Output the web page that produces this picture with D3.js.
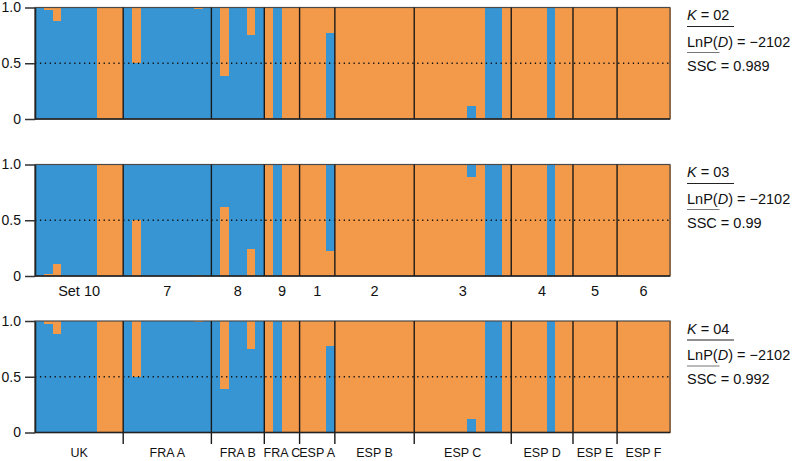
<!DOCTYPE html>
<html>
<head>
<meta charset="utf-8">
<script src="https://cdn.jsdelivr.net/npm/d3@7"></script>
<style>
  html, body { margin: 0; padding: 0; background: #fff; }
  svg { display: block; font-family: "Liberation Sans", Arial, Helvetica, sans-serif; }
</style>
</head>
<body>
<svg id="chart" width="792" height="461"></svg>
<script>
// ---------------- DATA ----------------
const groupNames = ["UK", "FRA A", "FRA B", "FRA C", "ESP A", "ESP B", "ESP C", "ESP D", "ESP E", "ESP F"];
const setLabels = ["Set 10", "7", "8", "9", "1", "2", "3", "4", "5", "6"];
const groupSizes = [10, 10, 6, 4, 4, 9, 11, 7, 5, 6];

// proportion of blue cluster per individual (72 individuals)
const blueK2 = [
  1, 0.976, 0.88, 1, 1, 1, 1, 0, 0, 0,          // UK
  1, 0.5, 1, 1, 1, 1, 1, 1, 0.99, 1,            // FRA A
  1, 0.39, 1, 1, 0.75, 1,                       // FRA B
  0, 1, 0, 0,                                   // FRA C
  0, 0, 0, 0.773,                               // ESP A
  0, 0, 0, 0, 0, 0, 0, 0, 0,                    // ESP B
  0, 0, 0, 0, 0, 0, 0.116, 0, 1, 1, 0,          // ESP C
  0, 0, 0, 0, 1, 0, 0,                          // ESP D
  0, 0, 0, 0, 0,                                // ESP E
  0, 0, 0, 0, 0, 0                              // ESP F
];
const blueK3 = [
  1, 0.982, 0.89, 1, 1, 1, 1, 0, 0, 0,
  1, 0.5, 1, 1, 1, 1, 1, 1, 0.99, 1,
  1, 0.384, 1, 1, 0.757, 1,
  0, 1, 0, 0,
  0, 0, 0, 0.775,
  0, 0, 0, 0, 0, 0, 0, 0, 0,
  0, 0, 0, 0, 0, 0, 0.108, 0, 1, 1, 0,
  0, 0, 0, 0, 1, 0, 0,
  0, 0, 0, 0, 0,
  0, 0, 0, 0, 0, 0
];
const blueK4 = [
  1, 0.976, 0.883, 1, 1, 1, 1, 0, 0, 0,
  1, 0.5, 1, 1, 1, 1, 1, 1, 0.99, 1,
  1, 0.39, 1, 1, 0.75, 1,
  0, 1, 0, 0,
  0, 0, 0, 0.778,
  0, 0, 0, 0, 0, 0, 0, 0, 0,
  0, 0, 0, 0, 0, 0, 0.117, 0, 1, 1, 0,
  0, 0, 0, 0, 1, 0, 0,
  0, 0, 0, 0, 0,
  0, 0, 0, 0, 0, 0
];
const kLabels = ["02", "03", "04"];
const lnpLabels = ["\u22122102", "\u22122102", "\u22122102"];
const sscLabels = ["0.989", "0.99", "0.992"];
const yTicks = [0, 0.5, 1];

// ---------------- LAYOUT ----------------
const BLUE = "#3795d3";
const ORANGE = "#f3994a";
const left = 35, right = 670;
const panels = [
  { data: blueK2, top: 7.5, bottom: 119, blueBottom: true, labels: null },
  { data: blueK3, top: 164.5, bottom: 276, blueBottom: false, labels: "sets" },
  { data: blueK4, top: 321, bottom: 432.5, blueBottom: true, labels: "groups" }
];

const svg = d3.select("#chart");
const n = blueK2.length;
const x = d3.scaleBand().domain(d3.range(n)).range([left, right]).paddingInner(0).paddingOuter(0);
const xLin = d3.scaleLinear().domain([0, n]).range([left, right]);
const cum = d3.cumsum(groupSizes);
const starts = [0, ...cum.slice(0, -1)];

panels.forEach((p, pi) => {
  const y = d3.scaleLinear().domain([0, 1]).range([p.bottom, p.top]);
  const g = svg.append("g");

  // bars
  const bars = g.append("g").attr("shape-rendering", "crispEdges");
  p.data.forEach((b, i) => {
    const o = 1 - b;
    const segs = p.blueBottom
      ? [{ v0: 0, v1: b, c: BLUE }, { v0: b, v1: 1, c: ORANGE }]
      : [{ v0: 0, v1: o, c: ORANGE }, { v0: o, v1: 1, c: BLUE }];
    segs.forEach(s => {
      if (s.v1 - s.v0 <= 0) return;
      bars.append("rect")
        .attr("x", x(i))
        .attr("width", x.bandwidth() + 0.6)
        .attr("y", y(s.v1))
        .attr("height", y(s.v0) - y(s.v1))
        .attr("fill", s.c);
    });
  });

  // dotted 0.5 line
  g.append("line")
    .attr("x1", left).attr("x2", right)
    .attr("y1", y(0.5)).attr("y2", y(0.5))
    .attr("stroke", "#111").attr("stroke-width", 1.3)
    .attr("stroke-dasharray", "1.3,3.6");

  // frame
  g.append("rect")
    .attr("x", left).attr("y", p.top)
    .attr("width", right - left).attr("height", p.bottom - p.top)
    .attr("fill", "none").attr("stroke", "#4a4a4a").attr("stroke-width", 1.2);

  // group separators
  cum.slice(0, -1).forEach(c => {
    g.append("line")
      .attr("x1", xLin(c)).attr("x2", xLin(c))
      .attr("y1", p.top).attr("y2", p.labels === "groups" ? p.bottom + 11.5 : p.bottom)
      .attr("stroke", "#1a1a1a").attr("stroke-width", 1.4);
  });

  // bottom line
  g.append("line")
    .attr("x1", left).attr("x2", right)
    .attr("y1", p.bottom).attr("y2", p.bottom)
    .attr("stroke", "#222").attr("stroke-width", 1.5);

  // y axis
  const ax = g.append("g")
    .attr("transform", `translate(${left},0)`)
    .call(d3.axisLeft(y).tickValues(yTicks).tickSize(10).tickSizeOuter(0).tickPadding(4)
      .tickFormat(d => d === 0 ? "0" : d3.format(".1f")(d)));
  ax.select(".domain").attr("stroke", "#222").attr("stroke-width", 1.6);
  ax.selectAll(".tick line").attr("stroke", "#333").attr("stroke-width", 1.5);
  ax.selectAll(".tick text").attr("font-size", 14).attr("fill", "#111")
    .attr("font-family", "'Liberation Sans', Arial, sans-serif");

  // category labels
  if (p.labels) {
    const labs = p.labels === "sets" ? setLabels : groupNames;
    labs.forEach((t, gi) => {
      g.append("text")
        .attr("x", (xLin(starts[gi]) + xLin(cum[gi])) / 2)
        .attr("y", p.labels === "sets" ? p.bottom + 19.5 : p.bottom + 24.5)
        .attr("text-anchor", "middle")
        .attr("font-size", p.labels === "sets" ? 14.5 : 12.5)
        .attr("fill", "#111")
        .text(t);
    });
  }

  // right-side annotation
  const tx = 687, T = p.top;
  const k = g.append("text").attr("x", tx).attr("y", T + 12.5).attr("font-size", 14.5).attr("fill", "#111");
  k.append("tspan").attr("font-style", "italic").text("K");
  k.append("tspan").text(" = " + kLabels[pi]);
  g.append("line").attr("x1", tx).attr("x2", 734).attr("y1", T + 19).attr("y2", T + 19)
    .attr("stroke", "#222").attr("stroke-width", 1.2);
  const l = g.append("text").attr("x", tx).attr("y", T + 39).attr("font-size", 14.5).attr("fill", "#111");
  l.append("tspan").text("LnP(");
  l.append("tspan").attr("font-style", "italic").text("D");
  l.append("tspan").text(") = " + lnpLabels[pi]);
  g.append("line").attr("x1", tx).attr("x2", 719.5).attr("y1", T + 45).attr("y2", T + 45)
    .attr("stroke", "#777").attr("stroke-width", 1.2);
  g.append("text").attr("x", tx).attr("y", T + 63).attr("font-size", 14.5).attr("fill", "#111")
    .text("SSC = " + sscLabels[pi]);
});
</script>
</body>
</html>
